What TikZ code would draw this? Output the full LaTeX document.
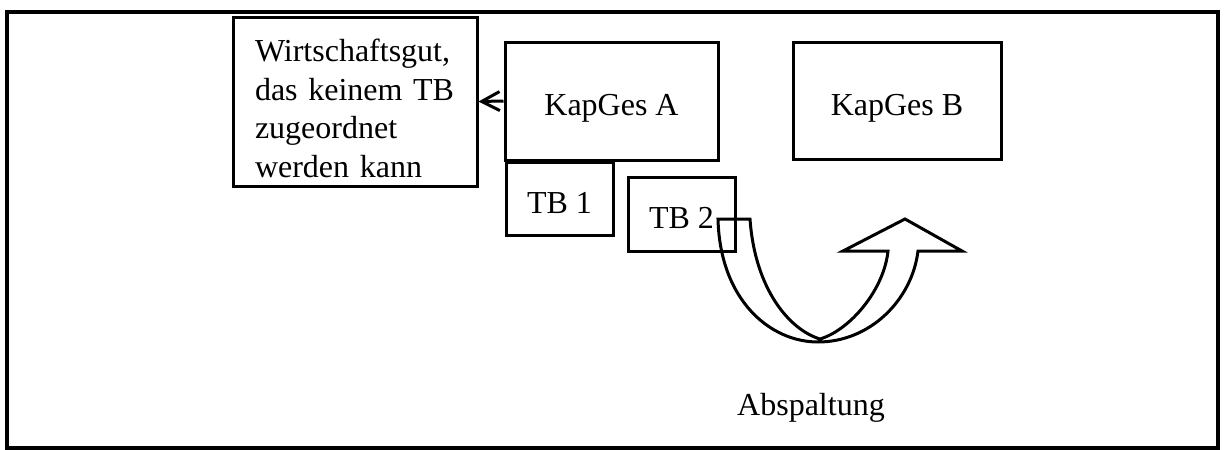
\documentclass[tikz,border=0pt]{standalone}
\usepackage{fontspec}
\setmainfont{Liberation Serif}
\usetikzlibrary{arrows.meta}

\begin{document}
\begin{tikzpicture}[x=0.5pt, y=-0.5pt,
		box/.style={draw, line width=1.5pt, inner sep=0pt, font=\fontsize{16}{19.3}\selectfont},
		label/.style={font=\fontsize{16}{19.3}\selectfont}]
		\useasboundingbox (0,0) rectangle (1227,450);
		\draw[line width=2pt] (7,12) rectangle (1218,448);
		
		\node[box, minimum width=122pt, minimum height=84.5pt, text width=100pt, inner xsep=11pt, align=left, text height=0pt, text depth=40pt] (WG) at (355,101.5) {Wirtschaftsgut,\\das keinem TB\\zugeordnet\\werden kann};
		
		\foreach \name/\x/\y/\w/\h/\txt in {KapA/611.5/101/106.5/59/KapGes A, KapB/897/100.5/104/58.5/KapGes B, TBa/559.5/198.5/53.5/36.5/TB 1, TBb/681.5/214/53.5/37/TB 2} {
			\node[box, minimum width=\w pt, minimum height=\h pt, text height=16pt, text depth=1.5pt] (\name) at (\x,\y) {\txt};
		}
		
		\draw[-{Straight Barb[length=9pt, width=9.5pt]}, line width=1.5pt] (KapA.west) -- (WG.east);
		
		% Abspaltung arrow
		\coordinate (T1) at (718,219);
		\coordinate (T2) at (750,219);
		\coordinate (M) at (820,339);
		\coordinate (S1) at (888,251);
		\coordinate (L) at (843,251);
		\coordinate (P) at (905,219);
		\coordinate (R) at (962,251);
		\coordinate (S2) at (918,251);
		\coordinate (O) at (818,342);
		\draw[line width=1.5pt, line join=miter] (T1) -- (T2)
			.. controls (755,290) and (790,330) .. (M)
			.. controls (850,330) and (884,290) .. (S1) -- (L) -- (P) -- (R) -- (S2)
			.. controls (912,300) and (870,342) .. (O)
			.. controls (770,342) and (720,300) .. cycle;
		
		\node[label] (AS) at (811,408) {Abspaltung};
	\end{tikzpicture}
\end{document}
